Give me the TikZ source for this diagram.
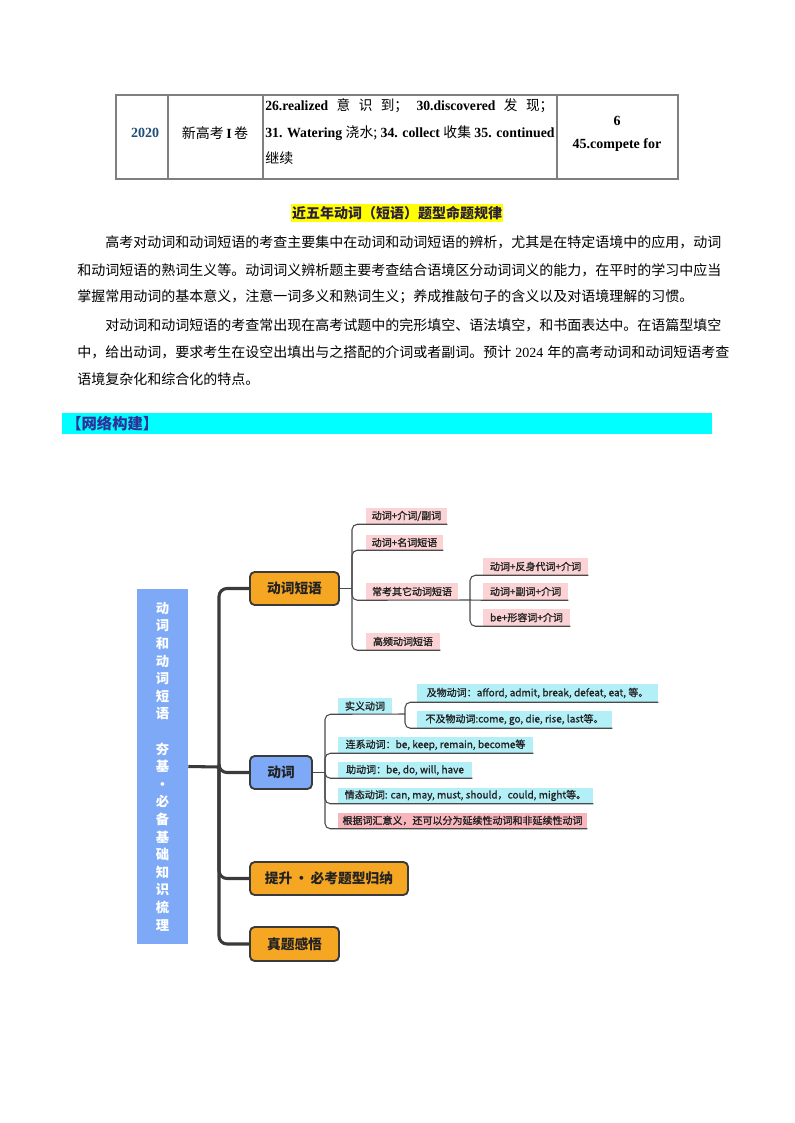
\documentclass[tikz,border=0pt]{standalone}
\usepackage{fontspec}
\usepackage{graphicx}
\setmainfont{Liberation Serif}
\newfontfamily\cjk{Noto Sans CJK SC}
\newfontfamily\cjkm{Noto Sans CJK SC}[FakeBold=1.2]
\XeTeXlinebreaklocale "zh"
\XeTeXlinebreakskip=0pt plus 1pt minus 0.3pt
\definecolor{orangeF}{HTML}{F5A623}
\definecolor{blueF}{HTML}{7DA9F7}
\definecolor{pinkF}{HTML}{FBD3D4}
\definecolor{cyanF}{HTML}{B3EFF7}
\definecolor{redpinkF}{HTML}{F8B5BC}
\definecolor{lineC}{HTML}{3A3A3A}
\definecolor{brkC}{HTML}{4A4A4A}
\definecolor{textC}{HTML}{222222}
\definecolor{headC}{HTML}{30309A}
\definecolor{yearC}{HTML}{1F4E79}
\definecolor{tabC}{HTML}{7F7F7F}
\definecolor{barC}{HTML}{00FFFF}
\definecolor{hiC}{HTML}{FFFF00}
\definecolor{hiT}{HTML}{2B1F3A}
\tikzset{
 bus/.style={draw=lineC, line width=2.3pt, rounded corners=6pt},
 brk/.style={draw=brkC, line width=0.8pt, rounded corners=4pt},
 sz/.style 2 args={minimum width={#1*0.75pt}, minimum height={#2*0.75pt}},
 mainbox/.style={fill=blueF, inner sep=0pt, text=white, align=center, font=\cjk\bfseries\fontsize{10}{13.2}\selectfont},
 lvone/.style={draw=lineC, line width=1.4pt, rounded corners=3.5pt, fill=orangeF, inner sep=0pt, text=textC, font=\cjk\bfseries\fontsize{10.3}{12}\selectfont},
 lab/.style={fill=pinkF, inner sep=0pt, text=textC, font=\cjkm\fontsize{7.5}{9}\selectfont},
 labc/.style={lab, fill=cyanF},
 labr/.style={lab, fill=redpinkF},
 para/.style={anchor=west, inner sep=0pt, text=black, font=\cjk\fontsize{10.5}{12}\selectfont},
 tab/.style={inner sep=0pt, text=black, font=\bfseries\fontsize{10.5}{12}\selectfont},
}
\begin{document}
\begin{tikzpicture}[x=0.75pt,y=-0.75pt]
\useasboundingbox (0,0) rectangle (794,1123);
\fill[white] (0,0) rectangle (794,1123);

% ---------- table ----------
\draw[tabC, line width=0.8pt] (116,95) rectangle (678,179);
\draw[tabC, line width=0.8pt] (168,95) -- (168,179) (263,95) -- (263,179) (557,95) -- (557,179);
\node[tab, text=yearC] (year) at (145,133) {2020};
\node[tab] (exam) at (215,133) {{\cjk\mdseries 新高考}\,I\,{\cjk\mdseries 卷}};
\node[tab, anchor=west] (r1) at (265,106) {\resizebox{216pt}{\height}{\hbox to 222pt{26.realized\hfill{\cjk\mdseries 意\hfill 识\hfill 到；}\hfill 30.discovered\hfill{\cjk\mdseries 发\hfill 现；}}}};
\node[tab, anchor=west] (r2) at (265,133) {\resizebox{217pt}{\height}{31. Watering {\cjk\mdseries 浇水;} 34. collect {\cjk\mdseries 收集} 35. continued}};
\node[tab, anchor=west] (r3) at (265,158) {{\cjk\mdseries 继续}};
\node[tab] (n6) at (617,121) {6};
\node[tab] (n45) at (617,145) {45.compete for};

% ---------- heading & paragraph ----------
\node[fill=hiC, inner xsep=1pt, inner ysep=1.6pt, text=hiT, font=\cjk\bfseries\fontsize{10.5}{12}\selectfont] (head) at (397,213) {近五年动词（短语）题型命题规律};
\node[para] (p1) at (105,242) {\hbox to 462pt{高考对动词和动词短语的考查主要集中在动词和动词短语的辨析，尤其是在特定语境中的应用，动词}};
\node[para] (p2) at (77,270) {\hbox to 483pt{和动词短语的熟词生义等。动词词义辨析题主要考查结合语境区分动词词义的能力，在平时的学习中应当}};
\node[para] (p3) at (77,297) {掌握常用动词的基本意义，注意一词多义和熟词生义；养成推敲句子的含义以及对语境理解的习惯。};
\node[para] (p4) at (105,325) {\hbox to 462pt{对动词和动词短语的考查常出现在高考试题中的完形填空、语法填空，和书面表达中。在语篇型填空}};
\node[para] (p5) at (77,352) {\hbox to 483pt{中，给出动词，要求考生在设空出填出与之搭配的介词或者副词。预计\hskip 3pt plus 2pt{\rmfamily 2024}\hskip 3pt plus 2pt 年的高考动词和动词短语考查}};
\node[para] (p6) at (77,379) {语境复杂化和综合化的特点。};

% ---------- bar ----------
\fill[barC] (62,413) rectangle (712,434);
\node[anchor=west, inner sep=0pt, text=headC, font=\cjk\bfseries\fontsize{11.5}{13}\selectfont] (bar) at (66,423.5) {【网络构建】};

% ---------- mind map ----------
\node[mainbox, sz={51}{355}] (M) at (162.5,766.5) {动\\词\\和\\动\\词\\短\\语\\[13.2pt]夯\\基\\•\\必\\备\\基\\础\\知\\识\\梳\\理};

\node[lvone, sz={89}{33}] (vp) at (294.5,588.5) {动词短语};
\node[lvone, fill=blueF, sz={62}{33}] (v) at (281,772.5) {动词};
\node[lvone, sz={158}{33}] (ts) at (329,878.5) {提升\,•\,必考题型归纳};
\node[lvone, sz={89}{34}] (zt) at (294.5,944) {真题感悟};

\coordinate (jm) at (219,767);
\draw[bus] (M.east) -- (jm);
\draw[bus] (jm) |- (vp.west);
\draw[bus] (jm) |- (v.west);
\draw[bus] (jm) |- (ts.west);
\draw[bus] (jm) |- (zt.west);

% verb phrases
\node[lab, sz={81}{16}] (a1) at (406.5,516) {动词+介词/副词};
\node[lab, sz={77}{15}] (a2) at (404.5,542.5) {动词+名词短语};
\node[lab, sz={92}{17}] (a3) at (412,591.5) {常考其它动词短语};
\node[lab, sz={74}{17}] (a4) at (403,641.5) {高频动词短语};
\node[lab, sz={105}{17}] (b1) at (535.5,566.5) {动词+反身代词+介词};
\node[lab, sz={85}{17}] (b2) at (525.5,591.5) {动词+副词+介词};
\node[lab, sz={87}{17}] (b3) at (526.5,617.5) {be+形容词+介词};

\coordinate (j1) at (352,588.5);
\coordinate (j2) at (470,600);
\draw[brk] (vp.east) -- (j1);
\draw[brk] (j1) |- (a1.south west) -- (a1.south east);
\draw[brk] (j1) |- (a2.south west) -- (a2.south east);
\draw[brk] (j1) |- (a3.south west) -- (j2);
\draw[brk] (j1) |- (a4.south west) -- (a4.south east);
\draw[brk] (j2) -- (b2.south west) -- (b2.south east);
\draw[brk] (j2) |- (b1.south west) -- (b1.south east);
\draw[brk] (j2) |- (b3.south west) -- (b3.south east);

% verbs
\node[labc, sz={54}{16}] (c1) at (365,706) {实义动词};
\node[labc, sz={241}{18}] (d1) at (537.5,693) {及物动词：afford, admit, break, defeat, eat, 等。};
\node[labc, sz={195}{17}] (d2) at (514.5,719.5) {不及物动词:come, go, die, rise, last等。};
\node[labc, sz={195}{16}] (c2) at (435.5,745) {连系动词：be, keep, remain, become等};
\node[labc, sz={134}{16}] (c3) at (405,770) {助动词：be, do, will, have};
\node[labc, sz={255}{16}] (c4) at (465.5,795.5) {情态动词: can, may, must, should，could, might等。};
\node[labr, sz={249}{16}] (c5) at (462.5,820.5) {根据词汇意义，还可以分为延续性动词和非延续性动词};

\coordinate (j3) at (325,772.5);
\coordinate (j4) at (405,714);
\draw[brk] (v.east) -- (j3);
\draw[brk] (j3) |- (c1.south west) -- (j4);
\draw[brk] (j4) |- (d1.south west) -- (d1.south east);
\draw[brk] (j4) |- (d2.south west) -- (d2.south east);
\draw[brk] (j3) |- (c2.south west) -- (c2.south east);
\draw[brk] (j3) |- (c3.south west) -- (c3.south east);
\draw[brk] (j3) |- (c4.south west) -- (c4.south east);
\draw[brk] (j3) |- (c5.south west) -- (c5.south east);
\end{tikzpicture}
\end{document}
